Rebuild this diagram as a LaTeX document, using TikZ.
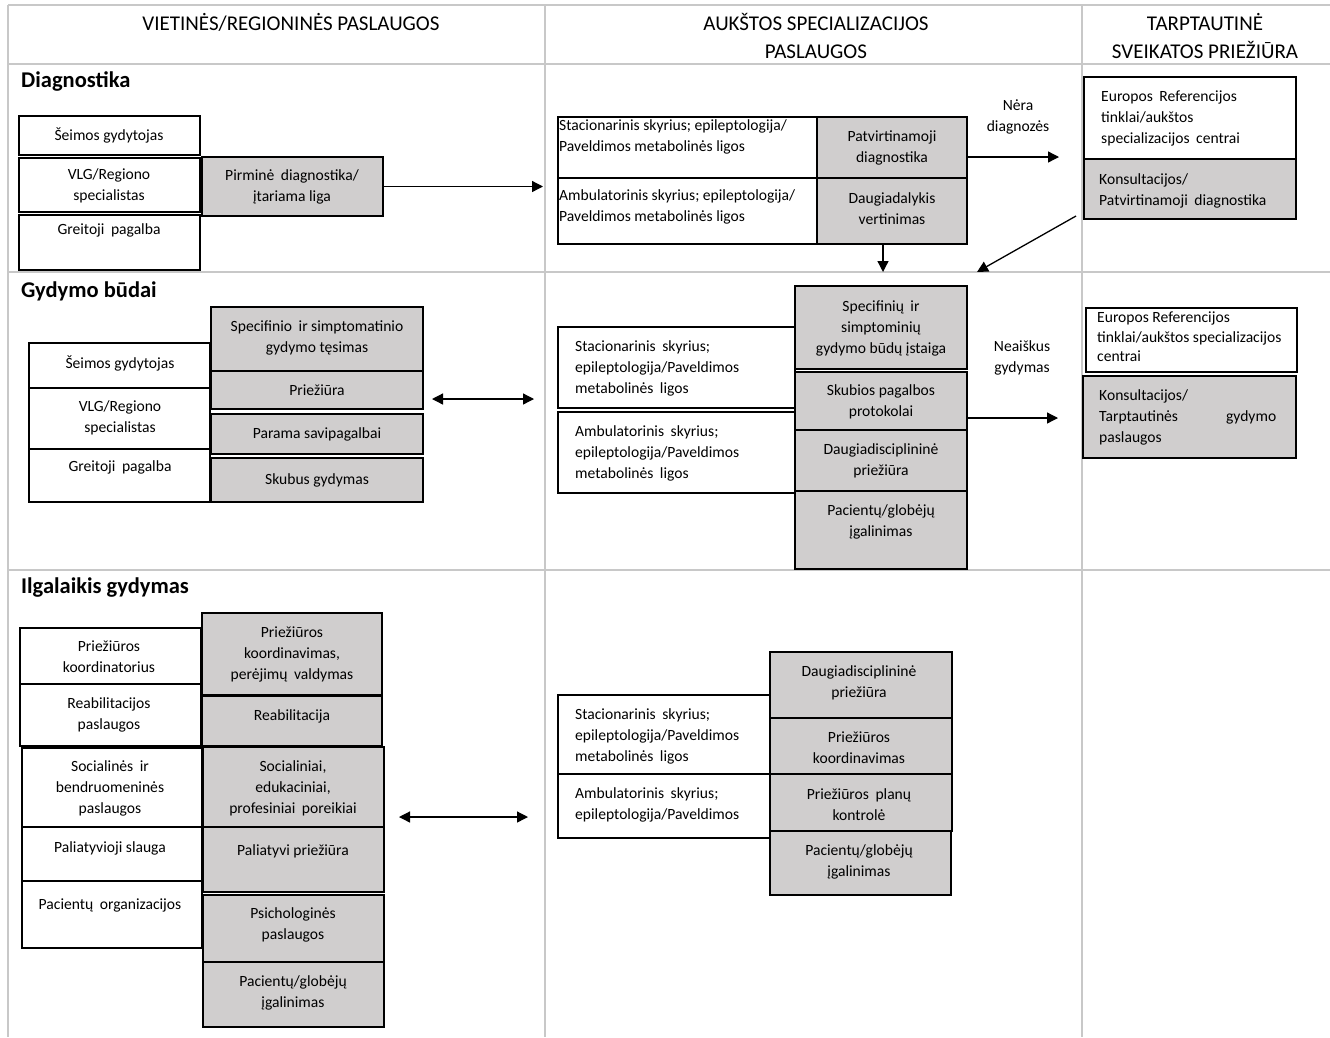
\documentclass[tikz,border=0pt]{standalone}
\usepackage{fontspec}
\setmainfont{Carlito}
\usetikzlibrary{arrows.meta,fit}
\definecolor{boxgrey}{RGB}{208,206,206}
\definecolor{gridgrey}{RGB}{200,200,200}
\tikzset{
  gridline/.style={draw=gridgrey, line width=2pt},
  wbox/.style={draw=black, line width=1.3pt, fill=white, inner sep=0pt},
  gbox/.style={wbox, fill=boxgrey},
  txt/.style={font=\fontsize{15.6}{21}\selectfont, align=center, inner sep=0pt},
  ltxt/.style={txt, align=left, anchor=west},
  head/.style={font=\fontsize{21}{28}\selectfont, align=center, inner sep=0pt},
  sect/.style={font=\fontsize{22.5}{26}\selectfont\bfseries, anchor=west, inner sep=0pt},
  conn/.style={line width=1.3pt, -{Triangle[length=11pt,width=11pt]}},
  dconn/.style={line width=1.3pt, {Triangle[length=11pt,width=11pt]}-{Triangle[length=11pt,width=11pt]}}
}
% box from corner (x1,y1) to corner (x2,y2)
\newcommand\bx[6]{\node[#2, fit={(#3,#4) (#5,#6)}] (#1) {};}
\begin{document}
\begin{tikzpicture}[x=1pt, y=-1pt]
\useasboundingbox (0,0) rectangle (1330,1037);
\fill[white] (0,0) rectangle (1330,1037);

% table grid
\draw[gridline] (8,5) -- (1330,5);
\draw[gridline] (8,64) -- (1330,64);
\draw[gridline] (8,272) -- (1330,272);
\draw[gridline] (8,570) -- (1330,570);
\draw[gridline] (8,5) -- (8,1037);
\draw[gridline] (545,5) -- (545,1037);
\draw[gridline] (1082,5) -- (1082,1037);

% column headings
\node[head] (h1) at (291,22) {VIETINĖS/REGIONINĖS PASLAUGOS};
\node[head] (h2) at (816,36) {AUKŠTOS SPECIALIZACIJOS\\PASLAUGOS};
\node[head] (h3) at (1205,36) {TARPTAUTINĖ\\SVEIKATOS PRIEŽIŪRA};

% row headings
\node[sect] (s1) at (21,81) {Diagnostika};
\node[sect] (s2) at (21,291) {Gydymo būdai};
\node[sect] (s3) at (21,588) {Ilgalaikis gydymas};

%% ---------------- Diagnostika ----------------
\bx{dseim}{wbox}{19}{116}{200}{155}
\bx{dvlg}{wbox}{19}{158}{200}{212}
\bx{dgreit}{wbox}{19}{215}{200}{270}
\bx{dpirm}{gbox}{202}{157}{383}{216}
\node[txt] (tdseim) at (109,135) {Šeimos gydytojas};
\node[txt] (tdvlg) at (109,186) {VLG/Regiono\\specialistas};
\node[txt] (tdgreit) at (109,230) {Greitoji\hspace{3pt} pagalba};
\node[txt] (tdpirm) at (292,187) {Pirminė\hspace{3pt} diagnostika/\\įtariama liga};

\bx{dstac}{wbox}{558}{117}{817}{178}
\bx{dpatv}{gbox}{817}{117}{967}{178}
\bx{damb}{wbox}{558}{178}{817}{244}
\bx{ddaug}{gbox}{817}{178}{967}{244}
\node[ltxt] (tdstac) at (559,137) {Stacionarinis skyrius; epileptologija/\\Paveldimos metabolinės ligos};
\node[txt] (tdpatv) at (892,148) {Patvirtinamoji\\diagnostika};
\node[ltxt] (tdamb) at (559,207) {Ambulatorinis skyrius; epileptologija/\\Paveldimos metabolinės ligos};
\node[txt] (tddaug) at (892,209) {Daugiadalykis\\vertinimas};
\node[txt] (lnera) at (1018,117) {Nėra\\diagnozės};

\bx{deu}{wbox}{1084}{77}{1296}{159}
\bx{dkons}{gbox}{1084}{159}{1296}{219}
\node[ltxt] (tdeu) at (1101,118) {Europos\hspace{3pt} Referencijos\\tinklai/aukštos\\specializacijos\hspace{3pt} centrai};
\node[ltxt] (tdkons) at (1099,191) {Konsultacijos/\\Patvirtinamoji\hspace{3pt} diagnostika};

\coordinate (a1) at (543,186.5);
\coordinate (a2) at (1059,157);
\coordinate (a3) at (883,272);
\coordinate (a4s) at (1076,216);
\coordinate (a4) at (977,272);
\draw[conn] (dpirm.east) -- (a1);
\draw[conn] (a2 -| dpatv.east) -- (a2);
\draw[conn] (a3 |- ddaug.south) -- (a3);
\draw[conn] (a4s) -- (a4);

%% ---------------- Gydymo būdai ----------------
\bx{gseim}{wbox}{29}{343}{210}{388}
\bx{gvlg}{wbox}{29}{388}{210}{449}
\bx{ggreit}{wbox}{29}{449}{210}{502}
\bx{gspec}{gbox}{211}{307}{423}{371}
\bx{gpriez}{gbox}{211}{371}{423}{409}
\bx{gparam}{gbox}{211}{414}{423}{454}
\bx{gskub}{gbox}{211}{458}{423}{502}
\node[txt] (tgseim) at (120,363) {Šeimos gydytojas};
\node[txt] (tgvlg) at (120,418) {VLG/Regiono\\specialistas};
\node[txt] (tggreit) at (120,467) {Greitoji\hspace{3pt} pagalba};
\node[txt] (tgspec) at (317,338) {Specifinio\hspace{3pt} ir simptomatinio\\gydymo tęsimas};
\node[txt] (tgpriez) at (317,390) {Priežiūra};
\node[txt] (tgparam) at (317,434) {Parama savipagalbai};
\node[txt] (tgskub) at (317,480) {Skubus gydymas};
\coordinate (b1s) at (432,399);
\coordinate (b1e) at (534,399);
\draw[dconn] (b1s) -- (b1e);

\bx{gstac}{wbox}{558}{327}{795}{408}
\bx{gamb}{wbox}{558}{412}{795}{493}
\bx{gspn}{gbox}{795}{286}{967}{369}
\bx{gskp}{gbox}{795}{372}{967}{430}
\bx{gdd}{gbox}{795}{430}{967}{491}
\bx{gpg}{gbox}{795}{491}{967}{569}
\node[ltxt] (tgstac) at (575,368) {Stacionarinis\hspace{3pt} skyrius;\\epileptologija/Paveldimos\\metabolinės\hspace{3pt} ligos};
\node[ltxt] (tgamb) at (575,453) {Ambulatorinis\hspace{3pt} skyrius;\\epileptologija/Paveldimos\\metabolinės\hspace{3pt} ligos};
\node[txt] (tgspn) at (881,328) {Specifinių\hspace{3pt} ir\\simptominių\\gydymo būdų įstaiga};
\node[txt] (tgskp) at (881,402) {Skubios pagalbos\\protokolai};
\node[txt] (tgdd) at (881,461) {Daugiadisciplininė\\priežiūra};
\node[txt] (tgpg) at (881,522) {Pacientų/globėjų\\įgalinimas};
\node[txt] (lneai) at (1022,358) {Neaiškus\\gydymas};
\coordinate (b2) at (1058,418);
\draw[conn] (b2 -| gskp.east) -- (b2);

\bx{geu}{wbox}{1086}{308}{1297}{372}
\bx{gkons}{gbox}{1083}{376}{1296}{458}
\node[ltxt, font=\fontsize{15.6}{19.5}\selectfont] (tgeu) at (1097,337) {Europos Referencijos\\tinklai/aukštos specializacijos\\centrai};
\node[ltxt] (tgkons) at (1099,417) {Konsultacijos/\\\makebox[177pt][s]{Tarptautinės\hfill gydymo}\\paslaugos};

%% ---------------- Ilgalaikis gydymas ----------------
\bx{ipk}{wbox}{20}{628}{201}{684}
\bx{irp}{wbox}{20}{684}{201}{746}
\bx{isb}{wbox}{22}{748}{202}{827}
\bx{ips}{wbox}{22}{827}{202}{881}
\bx{ipo}{wbox}{22}{881}{202}{948}
\bx{ipkv}{gbox}{202}{613}{382}{695}
\bx{ireab}{gbox}{202}{696}{382}{746}
\bx{isoc}{gbox}{203}{747}{384}{827}
\bx{ipal}{gbox}{203}{827}{384}{892}
\bx{ipsi}{gbox}{203}{895}{384}{962}
\bx{ipg}{gbox}{203}{962}{384}{1027}
\node[txt] (tipk) at (109,657) {Priežiūros\\koordinatorius};
\node[txt] (tirp) at (109,715) {Reabilitacijos\\paslaugos};
\node[txt] (tisb) at (110,788) {Socialinės\hspace{3pt} ir\\bendruomeninės\\paslaugos};
\node[txt] (tips) at (110,848) {Paliatyvioji slauga};
\node[txt] (tipo) at (110,905) {Pacientų\hspace{3pt} organizacijos};
\node[txt] (tipkv) at (292,654) {Priežiūros\\koordinavimas,\\perėjimų\hspace{3pt} valdymas};
\node[txt] (tireab) at (292,716) {Reabilitacija};
\node[txt] (tisoc) at (293,788) {Socialiniai,\\edukaciniai,\\profesiniai\hspace{3pt} poreikiai};
\node[txt] (tipal) at (293,851) {Paliatyvi priežiūra};
\node[txt] (tipsi) at (293,925) {Psichologinės\\paslaugos};
\node[txt] (tipg) at (293,993) {Pacientų/globėjų\\įgalinimas};
\coordinate (c1s) at (399,817);
\coordinate (c1e) at (528,817);
\draw[dconn] (c1s) -- (c1e);

\bx{istac}{wbox}{558}{695}{770}{774}
\bx{iamb}{wbox}{558}{774}{770}{838}
\bx{idd}{gbox}{770}{652}{952}{718}
\bx{ipk2}{gbox}{770}{718}{952}{774}
\bx{ippk}{gbox}{770}{774}{952}{831}
\bx{ipg2}{gbox}{770}{831}{951}{895}
\node[ltxt] (tistac) at (575,736) {Stacionarinis\hspace{3pt} skyrius;\\epileptologija/Paveldimos\\metabolinės\hspace{3pt} ligos};
\node[ltxt] (tiamb) at (575,805) {Ambulatorinis\hspace{3pt} skyrius;\\epileptologija/Paveldimos};
\node[txt] (tidd) at (859,683) {Daugiadisciplininė\\priežiūra};
\node[txt] (tipk2) at (859,748) {Priežiūros\\koordinavimas};
\node[txt] (tippk) at (859,805) {Priežiūros\hspace{3pt} planų\\kontrolė};
\node[txt] (tipg2) at (859,862) {Pacientų/globėjų\\įgalinimas};
\end{tikzpicture}
\end{document}
